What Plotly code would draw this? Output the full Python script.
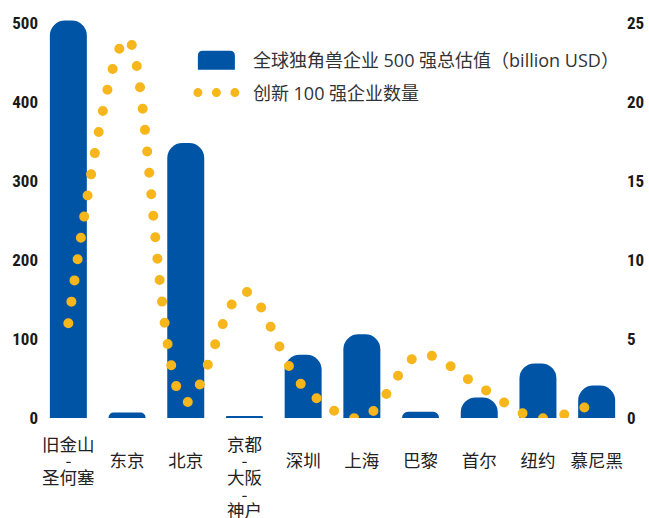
import plotly.graph_objects as go

# ---- data ----
cities = ["旧金山-圣何塞", "东京", "北京", "京都-大阪-神户", "深圳",
          "上海", "巴黎", "首尔", "纽约", "慕尼黑"]
valuation = [503, 7, 348, 2, 80, 106, 8, 26, 69, 41]     # billion USD (left axis)
innovation = [6, 24, 1, 8, 2, 0, 4, 2, 0, 1]             # count (right axis)
left_ticks = [0, 100, 200, 300, 400, 500]
right_ticks = [0, 5, 10, 15, 20, 25]
bar_name = "全球独角兽企业 500 强总估值（billion USD）"
line_name = "创新 100 强企业数量"

BLUE = "#0054A6"
GOLD = "#F6B61C"
CJK = "Noto Sans CJK SC, Noto Sans, sans-serif"
LEG = "Open Sans, Noto Sans CJK SC, sans-serif"
NUM = "Roboto Condensed, Liberation Sans Narrow, DejaVu Sans Condensed, sans-serif"


def tick_label(name):
    parts = name.split("-")
    lines = []
    for i, p in enumerate(parts):
        if i:
            lines.append('<span style="font-size:17px">-</span>')
        lines.append('<span style="font-size:17.5px">%s</span>' % p)
    if len(parts) == 1:
        lines = [" "] + lines
    return "<br>".join(lines)


fig = go.Figure()
fig.add_trace(go.Bar(
    x=cities, y=valuation, name=bar_name,
    marker=dict(color=BLUE, cornerradius=15, line=dict(width=0)),
    legendgroup="a",
))
fig.add_trace(go.Scatter(
    x=cities, y=innovation, name=line_name, yaxis="y2", mode="lines",
    line=dict(color=GOLD, width=10, shape="spline", dash="0px,21.5px"),
    legendgroup="b",
))

axis_common = dict(showgrid=False, zeroline=False, showline=False, ticks="",
                   automargin=False)
fig.update_layout(
    width=649, height=518,
    margin=dict(l=39, r=23, t=15, b=100),
    paper_bgcolor="white", plot_bgcolor="white",
    bargap=0.37,
    showlegend=True,
    legend=dict(x=0.240, y=0.933, xanchor="left", yanchor="top",
                font=dict(family=LEG, size=18, color="#333333"),
                bgcolor="rgba(0,0,0,0)", tracegroupgap=6, itemwidth=63),
    xaxis=dict(
        tickmode="array", tickvals=cities, ticktext=[tick_label(c) for c in cities],
        tickfont=dict(family=CJK, size=12.8, color="#222222"),
        ticklabelstandoff=19, **axis_common,
    ),
    yaxis=dict(
        range=[0, 510], tickvals=left_ticks,
        tickfont=dict(family=NUM, size=17, color="#1a1a1a", weight="bold"),
        **axis_common,
    ),
    yaxis2=dict(
        range=[0, 25.5], tickvals=right_ticks, overlaying="y", side="right",
        tickfont=dict(family=NUM, size=17, color="#1a1a1a", weight="bold"),
        **axis_common,
    ),
)

css = (
    "html,body{margin:0;padding:0;}"
    ".scatterlayer .js-line{stroke-linecap:round;}"
    ".legend .legendlines .js-line{stroke-linecap:round;stroke-dasharray:0 18.5px !important;"
    "stroke-dashoffset:5.5px;stroke-width:9px !important;}"
    ".legend .legendpoints path{d:path('M-18.5,9.5V-4.5Q-18.5,-9.5 -13.5,-9.5H13.5Q18.5,-9.5 18.5,-4.5V9.5Z');}"
    ".ytick text,.y2tick text{font-stretch:condensed;}"
)
post = ("var s=document.createElement('style');s.textContent=\"%s\";"
        "document.head.appendChild(s);" % css)
fig.write_html("out.html", post_script=post, config={"displayModeBar": False})
